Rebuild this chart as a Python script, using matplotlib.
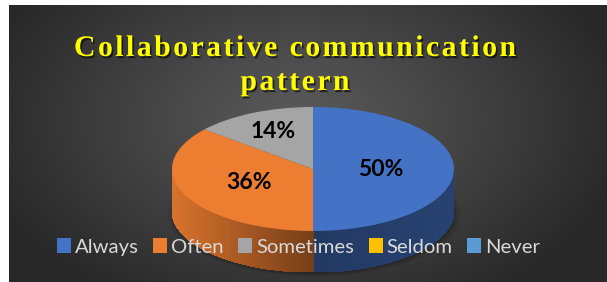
import numpy as np
import matplotlib
matplotlib.use("Agg")
import matplotlib.pyplot as plt
from matplotlib.patches import Polygon, Patch, Ellipse
import matplotlib.patheffects as pe
from matplotlib.colors import to_rgb

# data
categories = ["Always", "Often", "Sometimes", "Seldom", "Never"]
values = [50, 36, 14, 0, 0]
colors = ["#4472C4", "#ED7D31", "#A5A5A5", "#FFC000", "#5B9BD5"]
title_lines = ["Collaborative communication", "pattern"]

W, H = 607, 282
fig = plt.figure(figsize=(W / 100, H / 100), dpi=100)
fig.patch.set_facecolor("white")

# background with radial gradient
bg = fig.add_axes([0, 0, 1, 1])
bg.set_xlim(0, W)
bg.set_ylim(H, 0)
bg.axis("off")
yy, xx = np.mgrid[5:H:1.0, 9:W:1.0]
d = np.sqrt(((xx - 300) / 330) ** 2 + ((yy - 120) / 210) ** 2)
d = np.clip(d, 0, 1) ** 1.1
c0 = np.array([0x5a, 0x5a, 0x5a]) / 255
c1 = np.array([0x28, 0x28, 0x28]) / 255
img = c0[None, None, :] + (c1 - c0)[None, None, :] * d[..., None]
bg.imshow(img, extent=(9, W, H, 5), aspect="auto", interpolation="bilinear")

# title with letter spacing
def spaced_text(s, xc, y, spacing, **kw):
    r = fig.canvas.get_renderer()
    widths = []
    for i in range(len(s) + 1):
        t = bg.text(0, 0, s[:i] if i else "", **kw)
        widths.append(t.get_window_extent(r).width if i else 0)
        t.remove()
    total = widths[-1] + spacing * (len(s) - 1)
    x0 = xc - total / 2
    for i, ch in enumerate(s):
        if ch == " ":
            continue
        bg.text(x0 + widths[i] + i * spacing, y, ch, ha="left", va="baseline", **kw)

tkw = dict(family="Liberation Serif", fontweight="bold", fontsize=21.5, color="#FFFF00",
           path_effects=[pe.withSimplePatchShadow(offset=(1.2, -1.5), shadow_rgbFace="black", alpha=0.6)])
spaced_text(title_lines[0], 295, 56, 2.4, **tkw)
spaced_text(title_lines[1], 295, 90, 2.4, **tkw)

# pie geometry (pixels)
cx, cy, rx, ry, th = 313, 169, 141, 62, 41
hh = th / ry
ax = fig.add_axes([(cx - rx) / W, 1 - (cy + ry + th) / H, 2 * rx / W, (2 * ry + th) / H])
ax.axis("off")

wedges, texts, autotexts = ax.pie(
    values, colors=colors, startangle=90, counterclock=False, radius=1,
    autopct=lambda p: f"{p:.0f}%" if p > 0 else "", pctdistance=0.55,
    wedgeprops=dict(linewidth=0), frame=False,
    textprops=dict(family="Lato", fontweight="bold", fontsize=16.5, color="black"))
ax.set_aspect("auto")
ax.set_xlim(-1, 1)
ax.set_ylim(-1 - hh, 1)
for w in wedges:
    w.set_zorder(3)

# soft shadow under the pie
for k, a in [(1.04, 0.06), (1.02, 0.08), (1.0, 0.12)]:
    ax.add_patch(Ellipse((0.01, -hh - 0.06), 2 * k, 1.95 * k, facecolor="black", alpha=a,
                         edgecolor="none", zorder=0, clip_on=False))

def shade(t):
    c = np.cos(np.radians(t))
    return 0.5 + 0.42 * max(0, -c) + 0.08 * max(0, c)

# side walls
for w, col in zip(wedges, colors):
    t1, t2 = w.theta1, w.theta2
    if abs(t2 - t1) < 1e-6:
        continue
    for k in (-360, 0, 360):
        lo, hi = max(t1 + k, 180), min(t2 + k, 360)
        if hi <= lo:
            continue
        ts = np.linspace(lo, hi, max(2, int(hi - lo) + 1))
        base = np.array(to_rgb(col))
        for a, b in zip(ts[:-1], ts[1:]):
            ca, cb = np.radians([a, b])
            fc = base * shade((a + b) / 2)
            pts = [(np.cos(ca), np.sin(ca)), (np.cos(cb), np.sin(cb)),
                   (np.cos(cb), np.sin(cb) - hh), (np.cos(ca), np.sin(ca) - hh)]
            ax.add_patch(Polygon(pts, closed=True, facecolor=fc, edgecolor=fc,
                                 linewidth=0.6, antialiased=False, zorder=2))

# nudge labels toward where they sit in the chart
label_dist = [0.48, 0.5, 0.66]
for w, t, dist in zip(wedges, autotexts, label_dist):
    m = np.radians((w.theta1 + w.theta2) / 2)
    t.set_position((dist * np.cos(m), dist * np.sin(m)))
    t.set_zorder(5)

handles = [Patch(facecolor=c, edgecolor="none") for c in colors]
fig.legend(handles, categories, loc="center", bbox_to_anchor=(298.5 / W, 1 - 247 / H),
           ncol=5, frameon=False, handlelength=0.7, handleheight=0.7, handletextpad=0.2,
           columnspacing=0.7, borderaxespad=0,
           prop=dict(family="Lato", size=14.6), labelcolor="#d9d9d9")

fig.savefig("out.png", dpi=100)
